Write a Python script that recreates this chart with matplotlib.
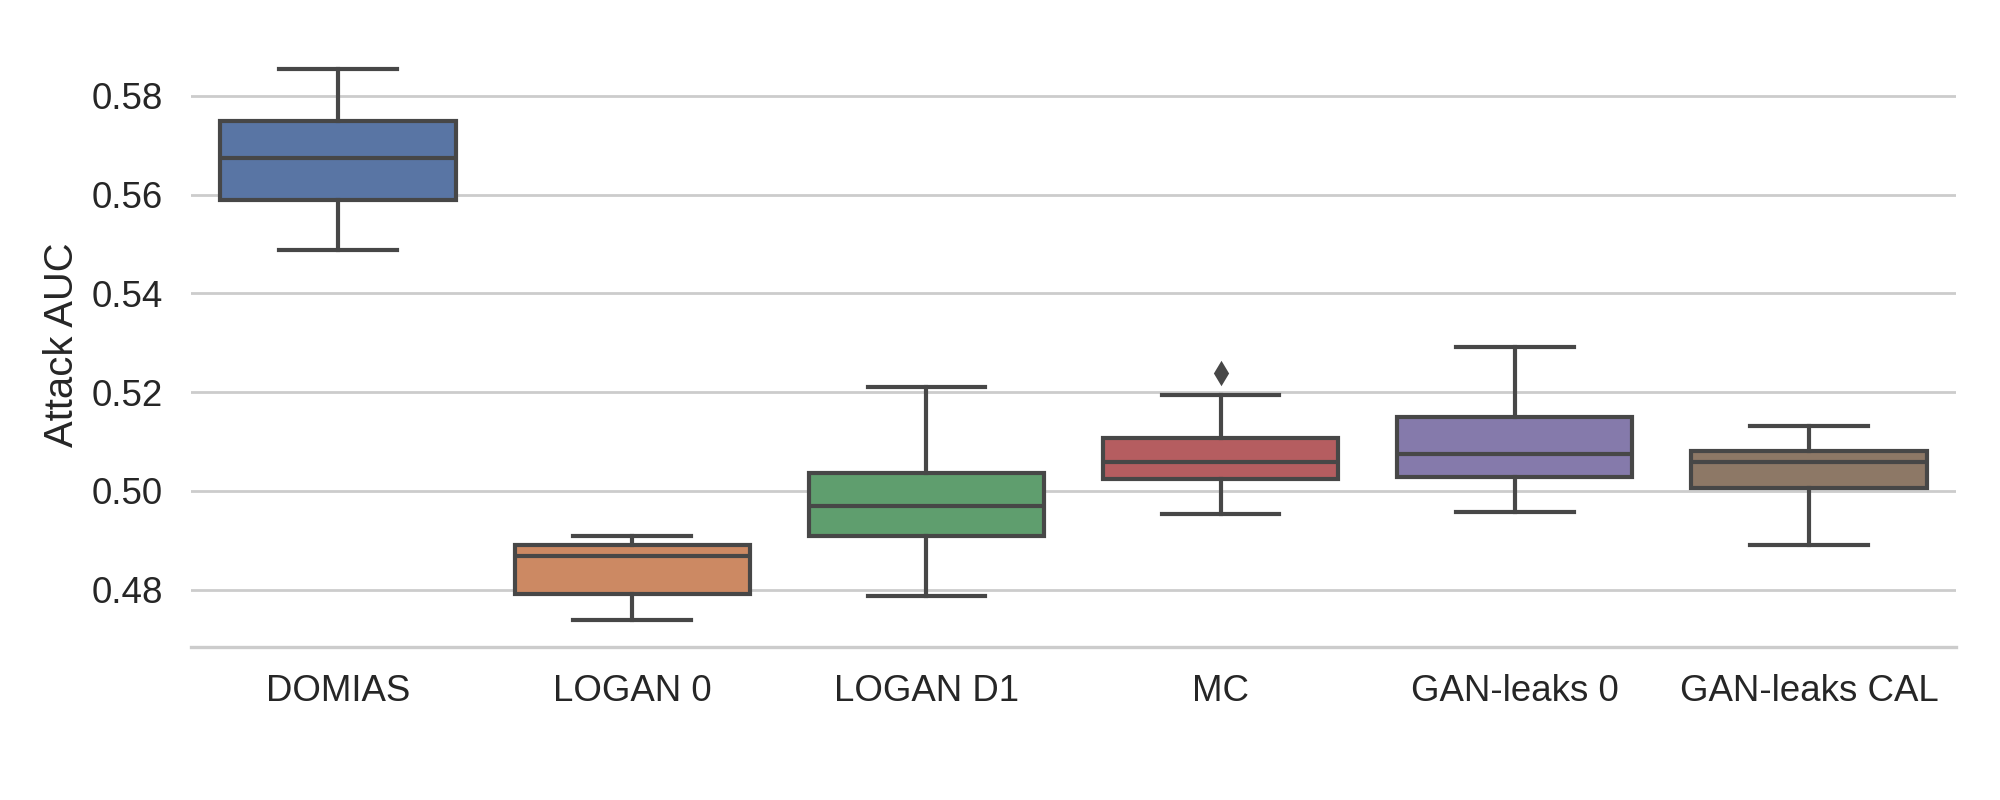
import colorsys

import matplotlib

matplotlib.use("Agg")
import matplotlib.colors as mcolors
import matplotlib.pyplot as plt
from matplotlib.ticker import FormatStrFormatter

# box statistics
methods = ["DOMIAS", "LOGAN 0", "LOGAN D1", "MC", "GAN-leaks 0", "GAN-leaks CAL"]
whisker_low = [0.5487, 0.4739, 0.4786, 0.4954, 0.4958, 0.4891]
q1 = [0.5589, 0.4791, 0.4909, 0.5023, 0.5028, 0.5005]
median = [0.5675, 0.4867, 0.4969, 0.5058, 0.5074, 0.5058]
q3 = [0.5749, 0.4890, 0.5037, 0.5107, 0.5149, 0.5081]
whisker_high = [0.5854, 0.4908, 0.5210, 0.5194, 0.5292, 0.5131]
outliers = [[], [], [], [0.5238], [], []]

deep = ["#4C72B0", "#DD8452", "#55A868", "#C44E52", "#8172B3", "#937860"]


def desaturate(color, prop=0.75):
    r, g, b = mcolors.to_rgb(color)
    h, l, s = colorsys.rgb_to_hls(r, g, b)
    return colorsys.hls_to_rgb(h, l, s * prop)


plt.rcParams["font.family"] = ["Liberation Sans", "DejaVu Sans"]

fig, ax = plt.subplots(figsize=(10, 4), dpi=200)
fig.subplots_adjust(left=0.0955, right=0.978, bottom=0.191, top=0.948)

stats = []
for i, name in enumerate(methods):
    stats.append(
        {
            "label": name,
            "whislo": whisker_low[i],
            "q1": q1[i],
            "med": median[i],
            "q3": q3[i],
            "whishi": whisker_high[i],
            "fliers": outliers[i],
        }
    )

gray = "#474747"
lw = 1.5
bp = ax.bxp(
    stats,
    positions=range(len(methods)),
    widths=0.8,
    patch_artist=True,
    boxprops={"edgecolor": gray, "linewidth": lw},
    medianprops={"color": gray, "linewidth": lw},
    whiskerprops={"color": gray, "linewidth": lw},
    capprops={"color": gray, "linewidth": lw},
    flierprops={
        "marker": "d",
        "markerfacecolor": gray,
        "markeredgecolor": gray,
        "markersize": 5,
    },
)
for patch, color in zip(bp["boxes"], deep):
    patch.set_facecolor(desaturate(color))

ax.set_xlim(-0.5, len(methods) - 0.5)
ax.set_xticks(range(len(methods)))
ax.set_xticklabels(methods)
ax.set_ylabel("Attack AUC", fontsize=14.4, color="#262626")
ax.yaxis.set_major_formatter(FormatStrFormatter("%.2f"))

ax.grid(axis="y", color="#cccccc", linewidth=1.0)
ax.set_axisbelow(True)
ax.tick_params(length=0, labelsize=13.2, labelcolor="#262626")
ax.tick_params(axis="x", pad=9.5)
ax.tick_params(axis="y", pad=10)
for side in ["left", "top", "right"]:
    ax.spines[side].set_visible(False)
ax.spines["bottom"].set_color("#cccccc")
ax.spines["bottom"].set_linewidth(1.2)

fig.savefig("out.png")
